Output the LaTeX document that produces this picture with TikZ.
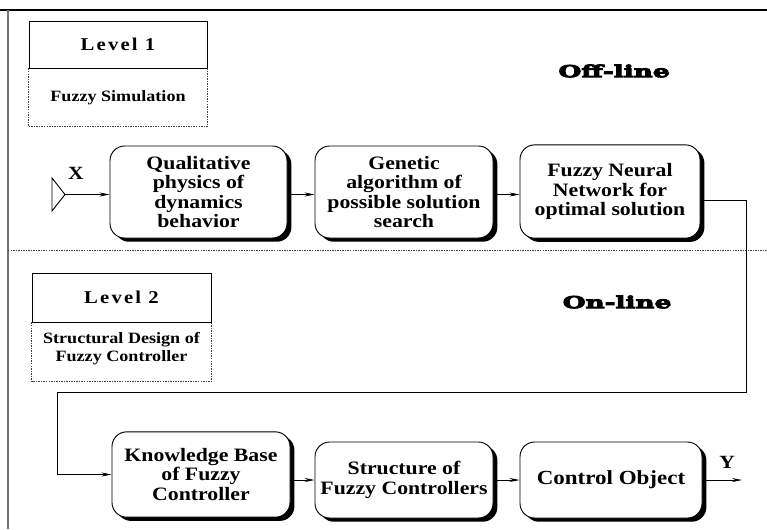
\documentclass[tikz,border=0pt]{standalone}
\usepackage{fontspec}
\setmainfont{Liberation Serif}[FakeStretch=1.15]
\newfontfamily\heavyfont{DejaVu Serif}[FakeStretch=1.6,FakeBold=6]
\usetikzlibrary{shadows,arrows.meta}

\tikzset{
  procbox/.style={draw, line width=0.7pt, rounded corners=11pt, fill=white,
    general shadow={fill=black, shadow xshift=3.3pt, shadow yshift=-2.8pt},
    align=center, inner sep=2pt,
    font=\bfseries\fontsize{14.2}{14.6}\selectfont},
  levelhead/.style={draw, line width=0.7pt, inner sep=0pt,
    font=\bfseries\fontsize{13.5}{15}\selectfont\addfontfeature{LetterSpace=12}},
  leveltext/.style={align=center, inner sep=0pt,
    font=\bfseries\fontsize{11.8}{13.6}\selectfont},
  dotline/.style={line width=0.6pt, black!75, dash pattern=on 1.1pt off 0.8pt},
  arr/.style={line width=0.6pt, -{Stealth[length=7.5pt,width=3pt]}},
  modelabel/.style={inner sep=0pt, font=\heavyfont\bfseries\fontsize{12.3}{13}\selectfont},
  iolabel/.style={inner sep=0pt, font=\bfseries\fontsize{14}{16}\selectfont}
}

\begin{document}
\begin{tikzpicture}[x=0.75pt,y=-0.75pt]
\useasboundingbox (0,0) rectangle (767,529);

% page frame and the off-line / on-line divider
\draw[line width=0.8pt] (0,10) -- (767,10);
\draw[line width=0.8pt, black!55] (8,10) -- (8,529);
\draw[dotline] (8,250) -- (767,250);

% level 1 caption box
\node[levelhead, minimum width=133.5pt, minimum height=35.25pt] (lv1) at (118,44.5) {Level 1};
\draw[dotline] (lv1.south west) -- ++(0,58) -| (lv1.south east);
\node[leveltext] (lv1t) at (118,98) {Fuzzy Simulation};

% level 2 caption box
\node[levelhead, minimum width=134.25pt, minimum height=36.75pt] (lv2) at (121.5,297.5) {Level 2};
\draw[dotline] (lv2.south west) -- ++(0,59) -| (lv2.south east);
\node[leveltext] (lv2t) at (121.5,349) {Structural Design of\\Fuzzy Controller};

% mode labels
\node[modelabel] (off) at (614,71) {Off-line};
\node[modelabel] (on) at (617,302) {On-line};

% off-line chain
\node[procbox, minimum width=132.75pt, minimum height=69pt] (qual) at (198.5,192) {Qualitative\\physics of\\dynamics\\behavior};
\node[procbox, minimum width=133.5pt, minimum height=69pt] (gen) at (404,192) {Genetic\\algorithm of\\possible solution\\search};
\node[procbox, minimum width=135pt, minimum height=70pt] (fnn) at (610,191.5) {Fuzzy Neural\\Network for\\optimal solution};

% on-line chain
\node[procbox, minimum width=133.5pt, minimum height=64pt] (kb) at (201,474.5) {Knowledge Base\\of Fuzzy\\Controller};
\node[procbox, minimum width=133.5pt, minimum height=57pt] (sfc) at (404,480) {Structure of\\Fuzzy Controllers};
\node[procbox, minimum width=136.5pt, minimum height=57pt, font=\bfseries\fontsize{15}{16}\selectfont] (obj) at (611,480) {Control Object};

% input X
\coordinate (xtip) at (65,194.5);
\draw[line width=0.7pt, fill=white] (52,178) -- (xtip) -- (52,211) -- cycle;
\node[iolabel] (xl) at (76,173) {X};
\draw[arr] (xtip) -- (qual.west |- xtip);

% off-line connections
\draw[arr] (qual.east |- xtip) -- (gen.west |- xtip);
\draw[arr] (gen.east |- xtip) -- (fnn.west |- xtip);

% feedback from the off-line result to the knowledge base
\coordinate (f0) at (0,200);
\coordinate (f1) at (746,392);
\coordinate (f2) at (57,392);
\draw[arr] (fnn.east |- f0) -| (f1) -- (f2) |- (kb.west);

% on-line connections
\draw[arr] (kb.east |- sfc.east) -- (sfc.west);
\draw[arr] (sfc.east) -- (obj.west);

% output Y
\coordinate (yout) at (742,480);
\draw[arr] (obj.east) -- (yout);
\node[iolabel] (yl) at (727,462) {Y};
\end{tikzpicture}
\end{document}
